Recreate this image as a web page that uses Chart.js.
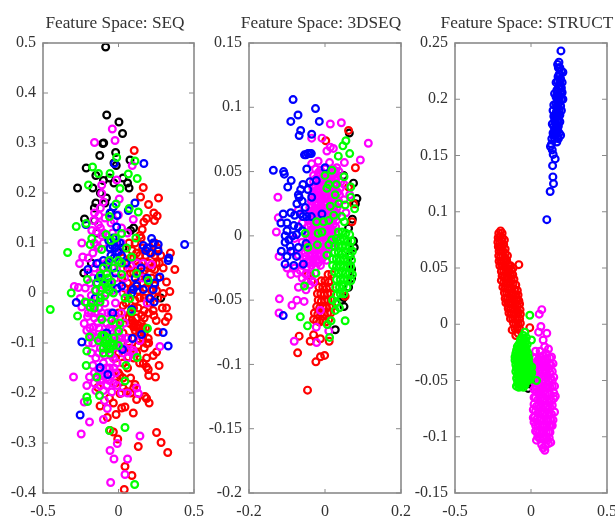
<!DOCTYPE html>
<html><head><meta charset="utf-8">
<script src="https://cdn.jsdelivr.net/npm/chart.js@4"></script>
<style>
html,body{margin:0;padding:0;background:#fff;overflow:hidden;width:615px;height:518px}
.p{position:absolute;top:0}
</style></head><body>
<div class="p" style="left:0;width:230px;height:518px"><canvas id="c0"></canvas></div>
<div class="p" style="left:205px;width:232px;height:518px"><canvas id="c1"></canvas></div>
<div class="p" style="left:410px;width:234px;height:518px"><canvas id="c2"></canvas></div>
<script>
const titles=["Feature Space: SEQ","Feature Space: 3DSEQ","Feature Space: STRUCT"];
const xTicks0=[-0.5,0,0.5], xTicks1=[-0.2,0,0.2], xTicks2=[-0.5,0,0.5];
const yTicks0=[-0.4,-0.3,-0.2,-0.1,0,0.1,0.2,0.3,0.4,0.5];
const yTicks1=[-0.2,-0.15,-0.1,-0.05,0,0.05,0.1,0.15];
const yTicks2=[-0.15,-0.1,-0.05,0,0.05,0.1,0.15,0.2,0.25];

const seqBlack=[[-.085,.492],[-.078,.356],[.003,.342],[.027,.319],[-.104,.299],[-.098,.3],[-.124,.275],[-.019,.281],[.076,.266],[-.214,.25],[-.271,.21],[-.17,.21],[-.15,.235],[-.1,.225],[-.06,.23],[-.03,.22],[.03,.23],[.06,.22],[.07,.21],[-.16,.17],[-.15,.18],[-.09,.18],[-.05,.16],[-.225,.148],[-.16,.145],[.08,.125],[.1,.13],[.03,.09],[-.23,.04],[-.18,.06],[.28,-.01],[-.03,.26],[-.015,.255],[-.12,.2],[-.08,.19],[-.14,.12]];
const seqRed=[[.104,.285],[.164,.211],[.146,.192],[.199,.177],[.265,.19],[.234,.16],[.256,.154],[.238,.145],[.186,.149],[.168,.142],[.157,.127],[.142,.115],[.344,.08],[.373,.047],[.296,.05],[.24,.047],[.318,.022],[.34,.003],[.296,-.001],[.252,.005],[.318,-.03],[.23,-.035],[.234,-.045],[.328,-.048],[.25,-.055],[.31,-.057],[.153,-.045],[.076,-.061],[.11,-.061],[.13,-.064],[.1,-.068],[.16,-.068],[.262,-.078],[.197,-.091],[.186,-.101],[.14,-.095],[.252,-.118],[.23,-.125],[.186,-.13],[.164,-.141],[.186,-.148],[.197,-.153],[.269,-.145],[.2,-.165],[.245,-.168],[.065,-.128],[.01,-.165],[.109,-.183],[.054,-.197],[.01,-.201],[-.137,-.189],[.12,-.213],[.175,-.207],[.186,-.211],[.203,-.22],[.043,-.228],[.021,-.23],[-.034,-.22],[-.122,-.226],[.098,-.24],[-.016,-.243],[-.074,-.249],[-.056,-.275],[-.034,-.278],[-.005,-.292],[.252,-.279],[.282,-.299],[.131,-.307],[.326,-.319],[.043,-.347],[.089,-.365],[.038,-.393],[.05,.09],[.09,.085],[.12,.08],[.16,.09],[.2,.09],[.24,.1],[.26,.09],[.28,.075],[.08,.07],[.12,.06],[.16,.06],[.2,.06],[.06,.05],[.1,.04],[.14,.04],[.18,.03],[.22,.03],[.26,.03],[.02,.03],[.06,.02],[.12,.02],[.18,.01],[.26,-.01],[.14,-.01],[.05,-.02],[.1,-.03],[0,-.04],[.15,-.06],[.18,-.07],[.13,-.07],[.1,-.065],[.07,-.05],[.2,-.04],[.16,-.09],[.2,-.1],[.08,-.11],[.12,-.12],[.05,-.11],[-.02,-.06],[.02,-.1],[-.02,-.13],[.03,-.14],[0,-.16],[.08,-.17],[.1,-.19],[.03,-.17],[.07,.1],[.11,.1],[.15,.11],[.22,.08],[.27,.06],[.19,.05],[.24,.015],[.21,-.02],[.29,-.03]];
const seqRedCore=[[.03,.07],[.1,.07],[.14,.075],[.18,.075],[.24,.075],[.04,.06],[.09,.055],[.14,.055],[.17,.045],[.22,.05],[.25,.06],[.08,.04],[.12,.04],[.2,.02],[.16,.02],[.04,.01],[.09,.01],[.13,.005],[.22,.005],[.06,-.005],[.11,-.015],[.17,-.01],[.2,-.01],[.03,-.025],[.08,-.04],[.13,-.03],[.17,-.035],[.05,-.05],[.12,-.05],[.17,-.05],[.09,-.055],[.11,-.075],[.14,-.08],[.17,-.08],[.09,-.09],[.13,-.105],[.17,-.11],[.06,-.09],[.03,-.08],[0,-.12],[.1,-.13],[.14,-.14],[.06,-.15],[.03,-.19],[.08,-.2],[-.02,-.18],[-.06,-.21]];
const seqMagenta=[[-.041,.328],[-.023,.305],[-.159,.301],[.091,.255],[-.012,.226],[-.111,.216],[-.111,.199],[.005,.188],[-.1,.182],[-.159,.16],[-.001,.156],[.098,.147],[-.165,.145],[-.133,.137],[-.12,.13],[-.177,.125],[-.145,.122],[-.11,.115],[-.243,.1],[-.145,.095],[-.237,.072],[-.258,.059],[-.293,.013],[-.265,.011],[-.254,-.011],[-.243,-.028],[-.205,-.047],[-.227,-.061],[-.165,-.068],[-.12,-.048],[-.078,-.061],[-.155,-.088],[-.012,-.095],[.054,-.091],[.098,-.115],[.142,-.095],[.274,-.107],[-.034,-.131],[-.298,-.168],[-.21,-.185],[-.192,-.168],[-.122,-.175],[-.078,-.185],[-.034,-.181],[-.045,-.198],[.131,-.201],[-.093,-.215],[-.227,-.218],[-.074,-.231],[-.192,-.258],[-.1,-.253],[-.247,-.282],[.142,-.286],[-.008,-.301],[-.056,-.315],[-.03,-.332],[.06,-.332],[.043,-.363],[-.052,-.379],[.164,.059],[.219,.057],[-.2,.04],[-.17,.03],[-.14,.02],[-.1,.015],[-.06,.02],[-.02,.03],[.03,.05],[.08,.055],[-.22,.01],[-.18,-.005],[-.15,-.02],[-.21,-.02],[-.18,-.04],[-.13,-.03],[-.09,-.02],[-.05,-.04],[-.02,-.02],[-.19,-.07],[-.14,-.06],[-.1,-.08],[-.06,-.07],[-.03,-.06],[.01,-.07],[.04,-.06],[-.17,-.1],[-.12,-.11],[-.08,-.1],[-.04,-.11],[0,-.09],[.03,-.11],[.07,-.1],[-.15,-.13],[-.1,-.14],[-.06,-.15],[-.16,-.16],[-.13,-.155],[-.09,-.165],[-.05,-.165],[-.16,-.18],[-.12,-.185],[-.08,-.17],[-.02,-.16],[.03,-.12],[-.07,.05],[-.13,.06],[-.17,.08],[-.06,.09],[-.02,.08],[.02,.1],[-.09,.15],[-.05,.14],[-.1,.12],[.02,.13],[.06,.12],[.12,.06]];
const seqMagentaCore=[[-.2,.07],[-.16,.05],[-.12,.04],[-.08,.06],[-.04,.05],[0,.06],[.04,.03],[-.19,.02],[-.155,.005],[-.12,.005],[-.08,0],[-.04,.005],[0,.01],[.03,0],[-.2,-.04],[-.165,-.03],[-.11,-.04],[-.07,-.04],[-.02,-.045],[.02,-.04],[-.21,-.075],[-.16,-.05],[-.13,-.07],[-.08,-.06],[-.045,-.075],[-.01,-.075],[.02,-.09],[-.18,-.085],[-.14,-.09],[-.1,-.095],[-.06,-.09],[-.03,-.1],[.01,-.11],[.05,-.115],[-.18,-.12],[-.13,-.12],[-.09,-.125],[-.05,-.125],[-.01,-.14],[-.17,-.145],[-.12,-.15],[-.08,-.15],[-.03,-.15],[-.14,-.17],[-.11,-.165],[-.06,-.175],[-.01,-.185],[.02,-.2],[-.15,-.195],[-.1,-.195],[-.17,-.08],[-.2,-.1],[-.15,-.04],[-.13,.09],[-.1,.1],[-.16,.1],[-.04,.12],[-.03,.145],[-.13,.155],[-.12,.17],[.16,.03],[.19,-.02],[.1,-.12],[.06,-.13],[.12,-.19],[.06,-.2]];
const seqBlue=[[.168,.259],[-.027,.259],[.109,.18],[.065,.165],[-.216,.137],[-.034,.172],[-.056,.16],[-.01,.155],[-.012,.132],[.219,.109],[.438,.097],[.164,.095],[.263,.097],[.19,.09],[.263,.084],[.333,.07],[-.056,.09],[-.023,.09],[0,.083],[-.203,.047],[-.144,.059],[-.074,.057],[.329,.065],[-.133,.03],[-.144,.02],[.274,.032],[.021,.014],[-.01,.009],[.098,.007],[.164,.007],[.23,.007],[.12,.014],[.087,0],[-.155,-.01],[.208,-.011],[.236,-.018],[-.28,-.019],[-.038,-.04],[.087,-.033],[-.078,-.08],[.296,-.079],[.153,-.083],[.093,-.091],[-.243,-.098],[.329,-.106],[.027,-.113],[-.122,-.149],[-.071,-.163],[-.254,-.244],[-.03,.07],[.01,.1],[-.05,.075],[-.04,.095],[-.01,.1],[.18,.085],[.23,.1],[.21,.08],[-.11,.03],[-.07,.02],[.24,.02],[-.065,.105],[-.035,.11],[.02,.075],[.05,.06],[.11,.03],[.15,.05],[.19,.03],[-.02,.04],[-.1,.065]];
const seqGreen=[[-.172,.252],[.109,.264],[-.012,.271],[-.056,.239],[-.133,.239],[-.199,.216],[.01,.209],[.065,.238],[.124,.229],[-.016,.178],[.071,.169],[.131,.162],[-.06,.153],[-.214,.139],[-.28,.133],[.021,.119],[-.082,.117],[-.02,.11],[-.177,.109],[-.188,.097],[-.111,.087],[.054,.09],[.115,.11],[-.05,.105],[-.337,.081],[.087,.072],[0,.065],[-.206,.027],[-.078,.039],[.021,.037],[.12,.039],[.197,.025],[-.144,.02],[-.045,.022],[-.078,.012],[-.313,0],[-.034,0],[.043,-.01],[.076,-.011],[-.221,-.018],[-.188,-.028],[-.122,-.018],[-.452,-.033],[-.271,-.046],[.087,-.037],[-.111,-.053],[-.045,-.055],[.192,-.071],[.002,-.076],[-.192,-.088],[-.133,-.095],[-.09,-.101],[-.034,-.105],[0,-.105],[-.056,-.111],[-.21,-.116],[-.1,-.12],[.124,-.129],[-.214,-.145],[.049,-.145],[-.144,-.168],[.043,-.176],[-.21,-.208],[-.205,-.217],[-.126,-.205],[-.06,-.275],[.043,-.269],[.107,-.383],[-.08,-.095],[-.1,-.11],[-.07,-.09],[-.18,-.02],[-.07,.03],[-.09,.02],[-.11,.01],[-.06,.005],[-.09,-.005],[-.075,-.105],[-.095,-.085],[-.05,-.1],[.02,.06],[-.1,.05],[-.12,.035],[-.06,.065],[-.03,.05],[-.15,.005],[-.12,-.01],[-.16,-.03],[-.11,-.085],[-.06,-.12],[-.03,-.09],[.01,-.06]];

const d3Black=[[.064,.08],[.075,.041],[.084,.029],[.08,.025],[.049,.047],[.062,.006],[.077,-.009],[.075,-.004],[.066,-.016],[.066,-.023],[.07,-.026],[.062,-.04],[.044,-.05],[.049,-.048],[.027,-.073],[.072,.013],[.07,-.033],[.05,-.055]];
const d3Red=[[.062,.082],[.08,.053],[.002,.074],[.075,.025],[.071,.011],[.062,.038],[-.068,-.078],[-.072,-.091],[-.024,-.098],[-.012,-.094],[-.001,-.093],[-.046,-.12],[-.039,-.082],[-.03,-.077],[.011,-.082],[-.012,-.08],[.053,-.047]];
const d3RedCore=[[-.03,-.065],[-.022,-.066],[-.014,-.067],[-.006,-.066],[.002,-.067],[.01,-.065],[-.028,-.06],[-.019,-.061],[-.01,-.06],[-.002,-.061],[.007,-.06],[.015,-.06],[-.022,-.055],[-.014,-.056],[-.005,-.055],[.004,-.056],[.012,-.055],[.02,-.055],[-.018,-.05],[-.01,-.051],[-.001,-.05],[.008,-.05],[.016,-.05],[-.02,-.045],[-.011,-.045],[-.002,-.046],[.007,-.045],[.015,-.045],[-.016,-.04],[-.006,-.04],[.004,-.041],[.013,-.04],[-.01,-.035],[0,-.035],[.01,-.036],[.018,-.03],[.008,-.03],[-.035,-.035],[-.045,-.03]];
const d3Magenta=[[.014,.087],[.043,.088],[.114,.072],[-.035,.076],[-.008,.076],[.014,.069],[.005,.066],[.022,.068],[.093,.059],[-.018,.058],[-.035,.056],[.012,.057],[.051,.057],[.031,.053],[-.124,.03],[-.123,.014],[-.128,.003],[-.121,-.016],[-.12,-.049],[-.121,-.06],[-.087,-.054],[-.074,-.05],[-.055,-.051],[-.081,-.082],[-.022,-.083],[-.023,-.071],[-.05,-.042],[-.074,-.029],[-.012,-.058],[.01,-.074],[.05,.028],[.055,.018],[.065,.032],[.05,.04],[-.06,.01],[-.07,.02],[-.08,-.002],[-.06,-.005],[-.1,-.025],[-.09,-.03],[-.085,-.012],[-.07,-.015]];
const d3MagentaCore=[[-.025,.052],[-.012,.051],[0,.052],[.013,.05],[.025,.051],[.037,.05],[-.03,.047],[-.017,.046],[-.004,.047],[.008,.046],[.02,.047],[.032,.046],[-.03,.042],[-.018,.041],[-.006,.042],[.006,.041],[.018,.042],[.03,.041],[.042,.042],[-.032,.037],[-.02,.036],[-.008,.037],[.004,.036],[.016,.037],[.028,.036],[.04,.037],[-.034,.032],[-.022,.031],[-.01,.032],[.002,.031],[.014,.032],[.026,.031],[.038,.032],[-.036,.027],[-.024,.026],[-.012,.027],[0,.026],[.012,.027],[.024,.026],[.036,.027],[-.04,.022],[-.028,.021],[-.016,.022],[-.004,.021],[.008,.022],[.02,.021],[.032,.022],[-.04,.017],[-.028,.016],[-.016,.017],[-.004,.016],[.008,.017],[.02,.016],[.032,.017],[-.042,.012],[-.03,.011],[-.018,.012],[-.006,.011],[.006,.012],[.018,.011],[.03,.012],[-.044,.007],[-.032,.006],[-.02,.007],[-.008,.006],[.004,.007],[.016,.006],[.028,.007],[-.045,.002],[-.033,.001],[-.021,.002],[-.009,.001],[.003,.002],[.015,.001],[.027,.002],[-.047,-.003],[-.035,-.004],[-.023,-.003],[-.011,-.004],[.001,-.003],[.013,-.004],[.025,-.003],[-.05,-.008],[-.038,-.009],[-.026,-.008],[-.014,-.009],[-.002,-.008],[.01,-.009],[.022,-.008],[-.052,-.013],[-.04,-.014],[-.028,-.013],[-.016,-.014],[-.004,-.013],[.008,-.014],[-.056,-.018],[-.044,-.019],[-.032,-.018],[-.02,-.019],[-.008,-.018],[.004,-.019],[-.06,-.023],[-.048,-.024],[-.036,-.023],[-.024,-.024],[-.012,-.023],[-.05,-.03],[-.038,-.03],[-.026,-.029],[-.03,-.036],[-.04,-.038]];
const d3MagentaFill=[[-.018,.049],[-.006,.049],[.006,.048],[.019,.049],[.03,.048],[-.024,.0445],[-.011,.044],[.002,.0445],[.014,.044],[.026,.0445],[-.025,.039],[-.012,.039],[0,.039],[.012,.039],[.024,.039],[-.028,.0345],[-.015,.034],[-.002,.034],[.01,.0345],[.022,.034],[.034,.034],[-.03,.029],[-.018,.029],[-.006,.029],[.006,.029],[.018,.029],[.03,.029],[-.034,.024],[-.022,.024],[-.01,.024],[.002,.024],[.014,.024],[.026,.024],[-.034,.019],[-.022,.019],[-.01,.019],[.002,.019],[.014,.019],[.026,.019],[-.036,.014],[-.024,.014],[-.012,.014],[0,.014],[.012,.014],[.024,.014],[-.038,.009],[-.026,.009],[-.014,.009],[-.002,.009],[.01,.009],[.022,.009],[-.039,.004],[-.027,.004],[-.015,.004],[-.003,.004],[.009,.004],[.021,.004],[-.041,-.001],[-.029,-.001],[-.017,-.001],[-.005,-.001],[.007,-.001],[.019,-.001],[-.044,-.006],[-.032,-.006],[-.02,-.006],[-.008,-.006],[.004,-.006],[.016,-.006],[-.046,-.011],[-.034,-.011],[-.022,-.011],[-.01,-.011],[.002,-.011],[-.05,-.016],[-.038,-.016],[-.026,-.016],[-.014,-.016],[-.002,-.016],[-.054,-.021],[-.042,-.021],[-.03,-.021],[-.018,-.021],[-.065,-.027],[-.08,-.025],[-.06,-.033],[-.07,-.04],[-.05,-.036]];
const d3Blue=[[-.084,.106],[-.025,.099],[-.071,.094],[-.09,.089],[-.015,.089],[-.064,.082],[-.068,.078],[-.035,.079],[-.054,.063],[-.05,.063],[-.045,.064],[-.04,.064],[-.036,.064],[-.136,.051],[-.109,.05],[-.107,.048],[-.048,.052],[-.089,.043],[-.098,.038],[0,.053],[-.023,.043],[-.04,.042],[-.058,.04],[-.064,.036],[-.07,.032],[-.074,.025],[-.06,.027],[-.052,.022],[-.09,.018],[-.11,.017],[-.116,.01],[-.1,.01],[-.082,.008],[-.07,.007],[-.105,0],[-.105,-.005],[-.095,-.003],[-.07,-.009],[-.048,.015],[-.036,.015],[-.008,.017],[-.105,-.022],[-.082,-.023],[-.057,-.022],[-.11,-.062],[-.115,-.012],[-.09,-.012],[-.08,.016],[-.065,.017],[-.06,.004],[-.05,-.006],[-.1,-.016],[-.075,-.016],[-.045,.036],[-.035,.03],[-.068,.03],[-.058,.015],[-.1,.004],[-.085,0],[-.075,.001],[-.092,-.008]];
const d3Green=[[.055,.074],[.047,.07],[.065,.064],[.035,.062],[.018,.051],[0,.047],[.05,.046],[.01,.04],[.03,.04],[.005,.037],[.068,.038],[.027,.032],[.068,.03],[.014,.023],[.036,.025],[.053,.024],[.078,.021],[.023,.016],[.044,.015],[-.004,.011],[-.022,.011],[.051,.011],[-.008,.003],[-.018,.002],[-.052,.002],[-.045,-.009],[.01,-.007],[-.024,-.029],[-.054,-.039],[-.065,-.063],[-.046,-.07],[.053,-.066],[.016,-.066],[.006,-.069],[.012,-.079],[-.02,-.007],[.005,-.015],[.01,.012],[.018,-.003]];
const d3GreenCore=[[.035,.003],[.045,.003],[.055,.002],[.065,.001],[.03,-.002],[.04,-.003],[.05,-.003],[.06,-.004],[.07,-.004],[.025,-.008],[.035,-.008],[.045,-.008],[.055,-.008],[.065,-.009],[.072,-.012],[.025,-.013],[.035,-.013],[.045,-.014],[.055,-.013],[.065,-.014],[.02,-.018],[.03,-.018],[.04,-.019],[.05,-.018],[.06,-.019],[.07,-.019],[.02,-.023],[.03,-.024],[.04,-.023],[.05,-.024],[.06,-.024],[.068,-.024],[.025,-.028],[.035,-.029],[.045,-.028],[.055,-.029],[.065,-.029],[.072,-.03],[.03,-.034],[.04,-.034],[.05,-.034],[.06,-.034],[.068,-.035],[.028,-.04],[.038,-.04],[.048,-.039],[.058,-.04],[.03,-.046],[.04,-.045],[.05,-.045],[.03,-.052],[.038,-.056],[.027,-.058],[.02,-.05]];

const stBlack=[[.019,-.039],[.019,-.045],[-.019,-.057],[.025,-.052],[.005,-.05],[.03,-.035],[-.01,-.053]];
const stRed=[[-.2,.083],[-.212,.081],[-.19,.081],[-.216,.077],[-.203,.078],[-.188,.077],[-.175,.075],[-.218,.073],[-.205,.073],[-.192,.074],[-.18,.071],[-.215,.069],[-.202,.069],[-.19,.069],[-.17,.067],[-.21,.065],[-.197,.065],[-.183,.065],[-.17,.063],[-.155,.061],[-.212,.061],[-.2,.06],[-.186,.061],[-.172,.059],[-.16,.057],[-.21,.056],[-.195,.056],[-.18,.056],[-.165,.055],[-.15,.053],[-.135,.052],[-.205,.052],[-.19,.052],[-.175,.051],[-.16,.05],[-.145,.049],[-.128,.048],[-.118,.05],[-.195,.047],[-.18,.047],[-.165,.046],[-.15,.045],[-.135,.044],[-.12,.044],[-.19,.043],[-.175,.042],[-.16,.041],[-.145,.041],[-.13,.04],[-.112,.04],[-.195,.039],[-.18,.037],[-.165,.037],[-.15,.036],[-.135,.036],[-.118,.036],[-.1,.035],[-.185,.033],[-.17,.032],[-.155,.032],[-.14,.031],[-.125,.032],[-.108,.031],[-.09,.03],[-.175,.028],[-.16,.028],[-.145,.027],[-.13,.027],[-.115,.027],[-.1,.026],[-.085,.026],[-.17,.023],[-.155,.023],[-.14,.023],[-.125,.023],[-.11,.022],[-.095,.022],[-.08,.021],[-.165,.019],[-.15,.019],[-.135,.018],[-.12,.018],[-.105,.018],[-.09,.017],[-.075,.018],[-.146,.019],[-.15,.014],[-.135,.014],[-.12,.014],[-.105,.013],[-.09,.013],[-.072,.013],[-.145,.01],[-.13,.009],[-.115,.009],[-.1,.009],[-.085,.01],[-.07,.009],[-.135,.005],[-.12,.005],[-.105,.005],[-.09,.004],[-.075,.005],[-.115,.001],[-.1,0],[-.085,0],[-.07,.001],[-.124,-.005],[-.105,-.004],[-.09,-.004],[-.075,-.004],[-.08,.053],[-.008,-.003],[-.1,-.01],[-.085,-.008]];
const stMagenta=[[.071,.013],[.054,.009],[.065,-.002],[.104,-.008],[.05,-.007],[.08,-.014],[.09,-.02],[.135,-.029],[.115,-.022],[.03,-.024],[.06,-.024],[.1,-.026],[.125,-.03],[.02,-.03],[.045,-.032],[.07,-.032],[.095,-.034],[.13,-.036],[.03,-.038],[.06,-.04],[.085,-.04],[.115,-.04],[.14,-.042],[.04,-.046],[.07,-.047],[.1,-.047],[.13,-.048],[.05,-.053],[.08,-.053],[.11,-.054],[.14,-.055],[.02,-.058],[.05,-.06],[.08,-.06],[.11,-.061],[.15,-.061],[.03,-.065],[.06,-.066],[.09,-.067],[.12,-.067],[.15,-.066],[.02,-.071],[.05,-.072],[.08,-.072],[.11,-.073],[.14,-.072],[.03,-.077],[.06,-.078],[.09,-.079],[.12,-.079],[.015,-.083],[.04,-.084],[.07,-.084],[.1,-.085],[.13,-.085],[.145,-.085],[.03,-.09],[.06,-.09],[.09,-.09],[.12,-.09],[.14,-.09],[.04,-.096],[.07,-.096],[.1,-.096],[.125,-.096],[.036,-.103],[.06,-.102],[.085,-.102],[.11,-.103],[.07,-.107],[.095,-.108],[.13,-.105],[.115,-.106],[.091,-.112],[.08,-.11]];
const stMagentaCore=[[.03,-.03],[.055,-.029],[.08,-.028],[.105,-.03],[.02,-.035],[.045,-.036],[.07,-.036],[.1,-.037],[.12,-.035],[.145,-.035],[.03,-.043],[.05,-.042],[.075,-.043],[.1,-.043],[.125,-.043],[.15,-.047],[.055,-.049],[.085,-.049],[.115,-.05],[.14,-.05],[.065,-.055],[.095,-.056],[.125,-.056],[.155,-.055],[.035,-.056],[.065,-.062],[.095,-.062],[.125,-.062],[.035,-.06],[.045,-.067],[.075,-.068],[.105,-.068],[.135,-.068],[.16,-.064],[.035,-.073],[.065,-.074],[.095,-.074],[.125,-.074],[.015,-.076],[.045,-.079],[.075,-.079],[.105,-.08],[.135,-.08],[.155,-.078],[.025,-.082],[.055,-.085],[.085,-.085],[.115,-.086],[.02,-.087],[.045,-.09],[.075,-.09],[.105,-.09],[.13,-.09],[.03,-.095],[.055,-.096],[.085,-.096],[.115,-.096],[.045,-.1],[.075,-.1],[.1,-.1],[.12,-.101],[.02,-.045],[.035,-.05],[.025,-.052],[.04,-.035],[.02,-.065]];
const stBlue=[[.197,.243],[.184,.233],[.175,.231],[.19,.228],[.2,.225],[.21,.224],[.185,.222],[.195,.218],[.175,.216],[.205,.215],[.185,.212],[.195,.21],[.17,.208],[.205,.206],[.18,.204],[.19,.203],[.165,.202],[.175,.2],[.2,.2],[.185,.197],[.165,.196],[.195,.194],[.175,.192],[.185,.19],[.165,.188],[.19,.186],[.155,.185],[.17,.184],[.18,.182],[.155,.181],[.165,.178],[.18,.176],[.15,.176],[.16,.173],[.175,.172],[.185,.17],[.16,.168],[.175,.166],[.18,.165],[.137,.165],[.135,.16],[.128,.158],[.14,.155],[.146,.151],[.159,.147],[.142,.141],[.144,.131],[.148,.125],[.126,.118],[.104,.093],[.165,.215],[.2,.21],[.155,.205],[.21,.2],[.15,.195],[.2,.19],[.145,.19],[.19,.18],[.14,.178],[.145,.17],[.195,.168],[.18,.228],[.19,.222],[.178,.22],[.19,.215],[.18,.21],[.195,.206],[.172,.205],[.185,.2],[.178,.196],[.17,.19],[.18,.187],[.16,.186],[.175,.18],[.16,.18],[.17,.175],[.155,.172],[.168,.17],[.15,.185],[.148,.168],[.17,.162],[.155,.165]];
const stGreen=[[-.04,-.007],[-.05,-.01],[-.03,-.012],[-.07,-.014],[-.055,-.016],[-.04,-.016],[-.025,-.018],[-.09,-.02],[-.075,-.021],[-.06,-.022],[-.045,-.022],[-.03,-.023],[-.1,-.026],[-.085,-.027],[-.07,-.028],[-.055,-.028],[-.04,-.028],[-.025,-.029],[-.105,-.032],[-.09,-.033],[-.075,-.033],[-.06,-.034],[-.045,-.034],[-.03,-.035],[-.015,-.034],[-.095,-.039],[-.08,-.039],[-.065,-.04],[-.05,-.04],[-.035,-.04],[-.02,-.04],[-.005,-.04],[.005,-.038],[-.09,-.045],[-.075,-.045],[-.06,-.045],[-.045,-.046],[-.03,-.046],[-.015,-.046],[0,-.046],[-.088,-.051],[-.075,-.051],[-.06,-.051],[-.045,-.052],[-.03,-.051],[-.08,-.056],[-.065,-.055],[-.05,-.056],[-.096,-.055],[-.008,.008],[.003,-.014],[.036,-.05]];
const stGreenCore=[[-.06,-.012],[-.045,-.013],[-.08,-.018],[-.065,-.018],[-.05,-.019],[-.035,-.02],[-.095,-.023],[-.08,-.024],[-.065,-.025],[-.05,-.025],[-.035,-.026],[-.02,-.026],[-.105,-.029],[-.09,-.03],[-.075,-.03],[-.06,-.031],[-.045,-.031],[-.03,-.031],[-.015,-.03],[-.1,-.036],[-.085,-.036],[-.07,-.037],[-.055,-.037],[-.04,-.037],[-.025,-.037],[-.01,-.037],[-.1,-.042],[-.085,-.042],[-.07,-.043],[-.055,-.043],[-.04,-.043],[-.025,-.043],[-.01,-.043],[.005,-.043],[-.095,-.048],[-.08,-.048],[-.065,-.048],[-.05,-.049],[-.035,-.049],[-.02,-.049],[-.005,-.049],[-.085,-.053],[-.07,-.053],[-.055,-.053],[-.04,-.054]];

const panels=[
 {xMin:-.5,xMax:.5,yMin:-.4,yMax:.5,xTicks:xTicks0,yTicks:yTicks0,series:[seqBlack,seqRed.concat(seqRedCore),seqMagenta.concat(seqMagentaCore),seqBlue,seqGreen],left:43,pad:36},
 {xMin:-.2,xMax:.2,yMin:-.2,yMax:.15,xTicks:xTicks1,yTicks:yTicks1,series:[d3Black,d3Red.concat(d3RedCore),d3Magenta.concat(d3MagentaCore,d3MagentaFill),d3Blue,d3Green.concat(d3GreenCore)],left:44,pad:36},
 {xMin:-.5,xMax:.5,yMin:-.15,yMax:.25,xTicks:xTicks2,yTicks:yTicks2,series:[stBlack,stRed,stMagenta.concat(stMagentaCore),stBlue,stGreen.concat(stGreenCore)],left:45,pad:37}
];
const colors=["#000000","#ff0000","#ff00ff","#0000ff","#00ff00"];
const frame={id:'frame',
 afterLayout(c){const t=c.titleBlock;t.left=0;t.right=c.width;},
 afterDatasetsDraw(c){
  const {ctx,chartArea:a,scales:{x,y}}=c;
  ctx.save();ctx.strokeStyle='#8a8a8a';ctx.lineWidth=1;
  ctx.beginPath();
  x.ticks.forEach(t=>{const p=x.getPixelForValue(t.value);ctx.moveTo(p,a.bottom);ctx.lineTo(p,a.bottom-4);ctx.moveTo(p,a.top);ctx.lineTo(p,a.top+4);});
  y.ticks.forEach(t=>{const p=y.getPixelForValue(t.value);ctx.moveTo(a.left,p);ctx.lineTo(a.left+5,p);ctx.moveTo(a.right,p);ctx.lineTo(a.right-5,p);});
  ctx.stroke();
  ctx.lineWidth=1.6;ctx.strokeRect(a.left,a.top,a.right-a.left,a.bottom-a.top);
  ctx.restore();
}};
const font={family:'"Liberation Serif","Times New Roman",serif',size:16};
panels.forEach((p,i)=>{
  new Chart(document.getElementById('c'+i),{
    type:'scatter',
    data:{datasets:p.series.map((s,k)=>({data:s.map(q=>({x:q[0],y:q[1]})),order:5-k,borderColor:colors[k],backgroundColor:'rgba(0,0,0,0)',pointRadius:3.4,borderWidth:2.2,pointHoverRadius:3.4,clip:false}))},
    plugins:[frame],
    options:{responsive:true,maintainAspectRatio:false,animation:false,
      layout:{padding:{left:0,right:p.pad,top:0,bottom:0}},
      plugins:{legend:{display:false},tooltip:{enabled:false},
        title:{display:true,text:titles[i],color:'#333',font:{family:font.family,size:17.3,weight:'normal'},padding:{top:13,bottom:9.24}}},
      scales:{
        x:{type:'linear',min:p.xMin,max:p.xMax,grid:{display:false,drawTicks:false},border:{display:false},
          afterBuildTicks:s=>{s.ticks=p.xTicks.map(v=>({value:v}));},
          afterFit:s=>{s.height=25;},
          ticks:{autoSkip:false,maxRotation:0,color:'#333',font,padding:9,callback:v=>String(v)}},
        y:{type:'linear',min:p.yMin,max:p.yMax,grid:{display:false,drawTicks:false},border:{display:false},
          afterBuildTicks:s=>{s.ticks=p.yTicks.map(v=>({value:v}));},
          afterFit:s=>{s.width=p.left;},
          ticks:{autoSkip:false,color:'#333',font,padding:7,callback:v=>String(v)}}
      }
    }
  });
});
</script>
</body></html>
